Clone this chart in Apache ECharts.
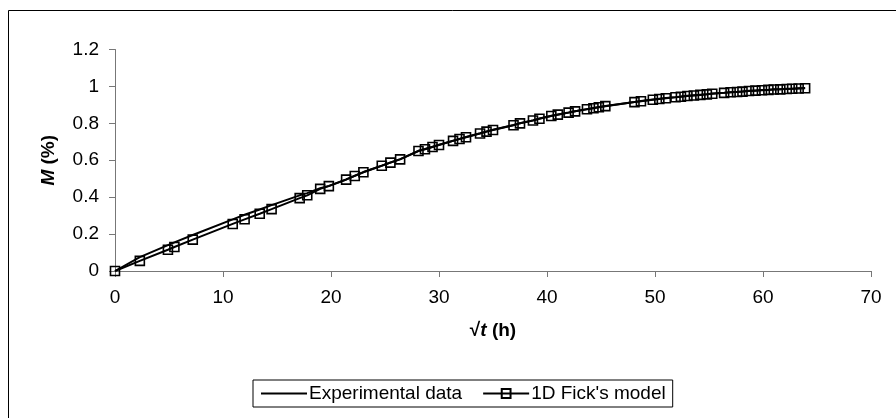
<!DOCTYPE html>
<html><head><meta charset="utf-8">
<script src="https://cdn.jsdelivr.net/npm/echarts@6/dist/echarts.min.js"></script>
<style>html,body{margin:0;padding:0;background:#fff}#c{width:896px;height:418px}</style>
</head><body><div id="c"></div>
<script>
var xValues = [0, 2.3, 4.9, 5.5, 7.2, 10.9, 12.0, 13.4, 14.5, 17.1, 17.8, 19.0, 19.8, 21.4, 22.2, 23.0, 24.7, 25.5, 26.4, 28.1, 28.7, 29.4, 30.0, 31.3, 31.9, 32.5, 33.8, 34.4, 35.0, 36.9, 37.5, 38.7, 39.3, 40.4, 41.0, 42.0, 42.6, 43.7, 44.3, 44.8, 45.4, 48.1, 48.7, 49.8, 50.4, 51.0, 51.9, 52.4, 53.0, 53.6, 54.2, 54.8, 55.3, 56.4, 57.0, 57.6, 58.1, 58.7, 59.3, 59.9, 60.5, 61.0, 61.6, 62.2, 62.7, 63.3, 63.9];
var modelValues = [0, 0.055, 0.115, 0.13, 0.17, 0.255, 0.28, 0.31, 0.335, 0.395, 0.41, 0.445, 0.46, 0.495, 0.515, 0.535, 0.57, 0.587, 0.605, 0.65, 0.66, 0.672, 0.683, 0.705, 0.715, 0.725, 0.745, 0.755, 0.764, 0.79, 0.8, 0.815, 0.825, 0.84, 0.847, 0.858, 0.865, 0.876, 0.882, 0.887, 0.893, 0.915, 0.92, 0.928, 0.932, 0.936, 0.941, 0.944, 0.948, 0.951, 0.954, 0.957, 0.96, 0.965, 0.968, 0.97, 0.972, 0.975, 0.977, 0.979, 0.981, 0.983, 0.984, 0.986, 0.987, 0.989, 0.99];
var expValues = [0, 0.075, 0.14, 0.155, 0.195, 0.28, 0.305, 0.333, 0.357, 0.41, 0.422, 0.448, 0.461, 0.496, 0.516, 0.536, 0.571, 0.588, 0.606, 0.651, 0.661, 0.673, 0.684, 0.706, 0.716, 0.726, 0.746, 0.756, 0.765, 0.791, 0.801, 0.816, 0.826, 0.841, 0.848, 0.859, 0.866, 0.877, 0.883, 0.888, 0.894, 0.916, 0.921, 0.929, 0.933, 0.937, 0.942, 0.945, 0.949, 0.952, 0.955, 0.958, 0.961, 0.966, 0.969, 0.971, 0.973, 0.976, 0.978, 0.98, 0.982, 0.984, 0.985, 0.987, 0.988, 0.99, 0.991];
var seriesNames = ["Experimental data", "1D Fick's model"];

function pairs(xs, ys){ return xs.map(function(x,i){ return [x, ys[i]]; }); }

var chart = echarts.init(document.getElementById('c'));
var font = 'Liberation Sans, Arial, sans-serif';
var richTitle = {a:{fontFamily:font, fontSize:19, fontWeight:'bold', color:'#000'}, b:{fontFamily:font, fontSize:19, fontWeight:'bold', fontStyle:'italic', color:'#000'}};
chart.setOption({
  animation: false,
  backgroundColor: '#fff',
  graphic: [{type:'rect', shape:{x:8.5, y:10.5, width:900, height:420}, style:{fill:'none', stroke:'#000', lineWidth:1}, silent:true}],
  grid: {left:115, right:25, top:49.5, bottom:147, containLabel:false},
  xAxis: {
    type:'value', min:0, max:70, interval:10,
    name:'{a|√}{b|t}{a| (h)}', nameLocation:'middle', nameGap:50,
    nameTextStyle:{rich:richTitle},
    axisLine:{lineStyle:{color:'#777', width:1}},
    axisTick:{show:true, inside:false, length:6, lineStyle:{color:'#777'}},
    axisLabel:{fontFamily:font, fontSize:19, color:'#000', margin:17},
    splitLine:{show:false}
  },
  yAxis: {
    type:'value', min:0, max:1.2, interval:0.2,
    name:'{b|M}{a| (%)}', nameLocation:'middle', nameGap:57, nameRotate:90,
    nameTextStyle:{rich:richTitle},
    axisLine:{show:true, lineStyle:{color:'#777', width:1}},
    axisTick:{show:true, inside:false, length:6, lineStyle:{color:'#777'}},
    axisLabel:{fontFamily:font, fontSize:19, color:'#000', margin:16, formatter:function(v){return String(Math.round(v*10)/10);}},
    splitLine:{show:false}
  },
  legend: {
    left:253, top:380, orient:'horizontal',
    borderColor:'#000', borderWidth:1, padding:[4,7,4,7],
    itemWidth:46, itemHeight:11, itemGap:20,
    textStyle:{fontFamily:font, fontSize:19, color:'#000', padding:[0,0,0,-3]},
    data:[
      {name:seriesNames[0], itemStyle:{color:'rgba(0,0,0,0)', borderColor:'rgba(0,0,0,0)', borderWidth:0}},
      {name:seriesNames[1]}
    ]
  },
  series: [
    {name:seriesNames[0], type:'line', data:pairs(xValues, expValues), symbol:'none', showSymbol:false,
     lineStyle:{color:'#000', width:2}, itemStyle:{color:'#000'}, z:2},
    {name:seriesNames[1], type:'line', data:pairs(xValues, modelValues), symbol:'rect', symbolSize:9,
     lineStyle:{color:'#000', width:2}, itemStyle:{color:'rgba(255,255,255,0)', borderColor:'#000', borderWidth:1.6}, z:3}
  ]
});
</script></body></html>
